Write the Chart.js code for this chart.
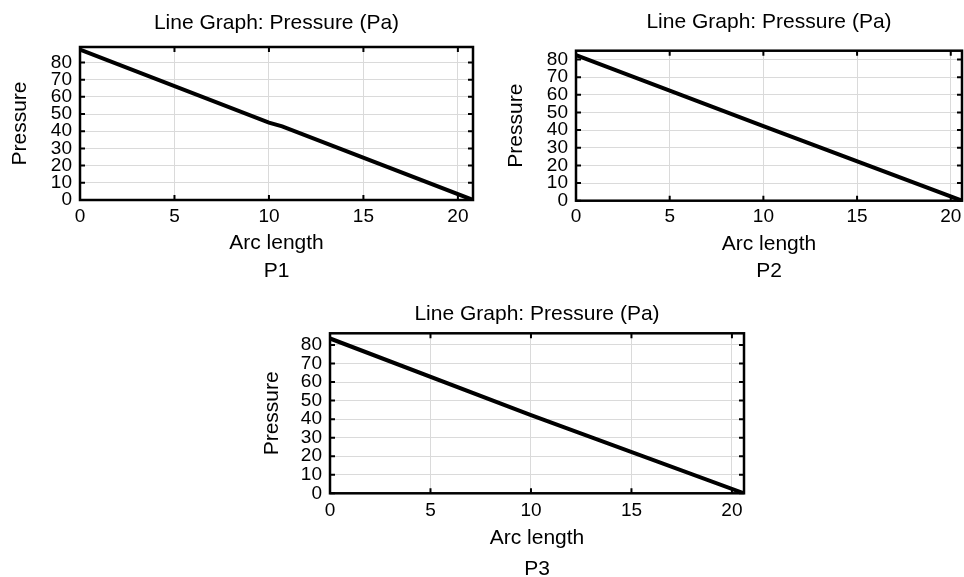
<!DOCTYPE html>
<html>
<head>
<meta charset="utf-8">
<title>Line Graph: Pressure (Pa)</title>
<script src="https://cdn.jsdelivr.net/npm/chart.js@4.4.0/dist/chart.umd.min.js"></script>
<style>
  html, body { margin: 0; padding: 0; background: #fff; overflow: hidden; }
  body { width: 964px; height: 577px; position: relative; }
  .box { position: absolute; }
</style>
</head>
<body>
<div class="box" style="left:0px;top:0px;width:480px;height:290px"><canvas id="p1"></canvas></div>
<div class="box" style="left:496px;top:0px;width:480px;height:290px"><canvas id="p2"></canvas></div>
<div class="box" style="left:250px;top:290px;width:501px;height:292px"><canvas id="p3"></canvas></div>
<script>
// pressure along the arc, one series per section
var arcP1 = [0, 10, 10.7, 20.8];
var presP1 = [87.5, 45, 42.8, 0];
var arcP2 = [0, 10, 20.6];
var presP2 = [82.5, 42.2, 0];
var arcP3 = [0, 10, 20.6];
var presP3 = [83.5, 42.2, 0];

// tick values shared by all three plots
var arcTicks = [0, 5, 10, 15, 20];
var presTicks = [0, 10, 20, 30, 40, 50, 60, 70, 80];

var chartTitle = 'Line Graph: Pressure (Pa)';

Chart.defaults.font.family = "'Liberation Sans', Arial, sans-serif";
Chart.defaults.color = '#000';

// black box round the plot with short inward tick marks
var frame = {
    id: 'frame',
    afterDatasetsDraw: function (chart) {
        var a = chart.chartArea, ctx = chart.ctx;
        var sx = chart.scales.x, sy = chart.scales.y;
        ctx.save();
        ctx.strokeStyle = '#000';
        ctx.lineWidth = 2.5;
        ctx.strokeRect(a.left, a.top, a.right - a.left, a.bottom - a.top);
        ctx.lineWidth = 2;
        ctx.beginPath();
        sx.ticks.forEach(function (t) {
            var px = sx.getPixelForValue(t.value);
            ctx.moveTo(px, a.bottom); ctx.lineTo(px, a.bottom - 5);
            ctx.moveTo(px, a.top); ctx.lineTo(px, a.top + 5);
        });
        sy.ticks.forEach(function (t) {
            var py = sy.getPixelForValue(t.value);
            ctx.moveTo(a.left, py); ctx.lineTo(a.left + 5, py);
            ctx.moveTo(a.right, py); ctx.lineTo(a.right - 5, py);
        });
        ctx.stroke();
        ctx.restore();
    }
};

function useTicks(list) {
    return function (scale) {
        scale.ticks = list.map(function (v) { return { value: v }; });
    };
}

function pressureChart(id, name, arc, pres, o) {
    var pts = arc.map(function (a, i) { return { x: a, y: pres[i] }; });
    return new Chart(document.getElementById(id), {
        type: 'line',
        data: {
            datasets: [{
                data: pts,
                borderColor: '#000',
                borderWidth: 4,
                pointRadius: 0,
                tension: 0
            }]
        },
        options: {
            responsive: true,
            maintainAspectRatio: false,
            animation: false,
            layout: { padding: { top: 0, left: 0, bottom: 0, right: o.padRight } },
            plugins: {
                legend: { display: false },
                tooltip: { enabled: false },
                title: {
                    display: true, text: chartTitle, fullSize: false,
                    font: { size: 21, weight: 'normal' },
                    padding: { top: o.titleTop, bottom: o.titleBottom }
                },
                subtitle: {
                    display: true, text: name, position: 'bottom', fullSize: false,
                    font: { size: 21 },
                    padding: { top: o.nameTop, bottom: o.nameBottom }
                }
            },
            scales: {
                x: {
                    type: 'linear', min: 0, max: o.xMax,
                    afterBuildTicks: useTicks(arcTicks),
                    afterFit: function (s) { s.height = o.xAxisH; },
                    grid: { color: '#dadada', drawTicks: false },
                    border: { display: false },
                    ticks: { padding: o.xTickPad, autoSkip: false, maxRotation: 0, font: { size: 19 } },
                    title: { display: true, text: 'Arc length', font: { size: 21 }, padding: { top: 0, bottom: 0 } }
                },
                y: {
                    type: 'linear', min: 0, max: o.yMax,
                    afterBuildTicks: useTicks(presTicks),
                    afterFit: function (s) { s.width = 80; },
                    grid: { color: '#dadada', drawTicks: false },
                    border: { display: false },
                    ticks: { padding: 8, autoSkip: false, font: { size: 19 } },
                    title: { display: true, text: 'Pressure', font: { size: 21 }, padding: { top: o.yTitlePad, bottom: 0 } }
                }
            }
        },
        plugins: [frame]
    });
}

pressureChart('p1', 'P1', arcP1, presP1, {
    xMax: 20.8, yMax: 89, padRight: 7,
    titleTop: 10.4, titleBottom: 11.4, xAxisH: 56.1, xTickPad: 5.1,
    nameTop: 2.8, nameBottom: 5.9, yTitlePad: 7.6
});
pressureChart('p2', 'P2', arcP2, presP2, {
    xMax: 20.6, yMax: 85, padRight: 14,
    titleTop: 9.9, titleBottom: 15.6, xAxisH: 55.9, xTickPad: 4.2,
    nameTop: 2.3, nameBottom: 5.9, yTitlePad: 7.4
});
pressureChart('p3', 'P3', arcP3, presP3, {
    xMax: 20.6, yMax: 86.3, padRight: 7,
    titleTop: 11.4, titleBottom: 6.7, xAxisH: 57.6, xTickPad: 5.8,
    nameTop: 5.5, nameBottom: 0.4, yTitlePad: 9.4
});
</script>
</body>
</html>
